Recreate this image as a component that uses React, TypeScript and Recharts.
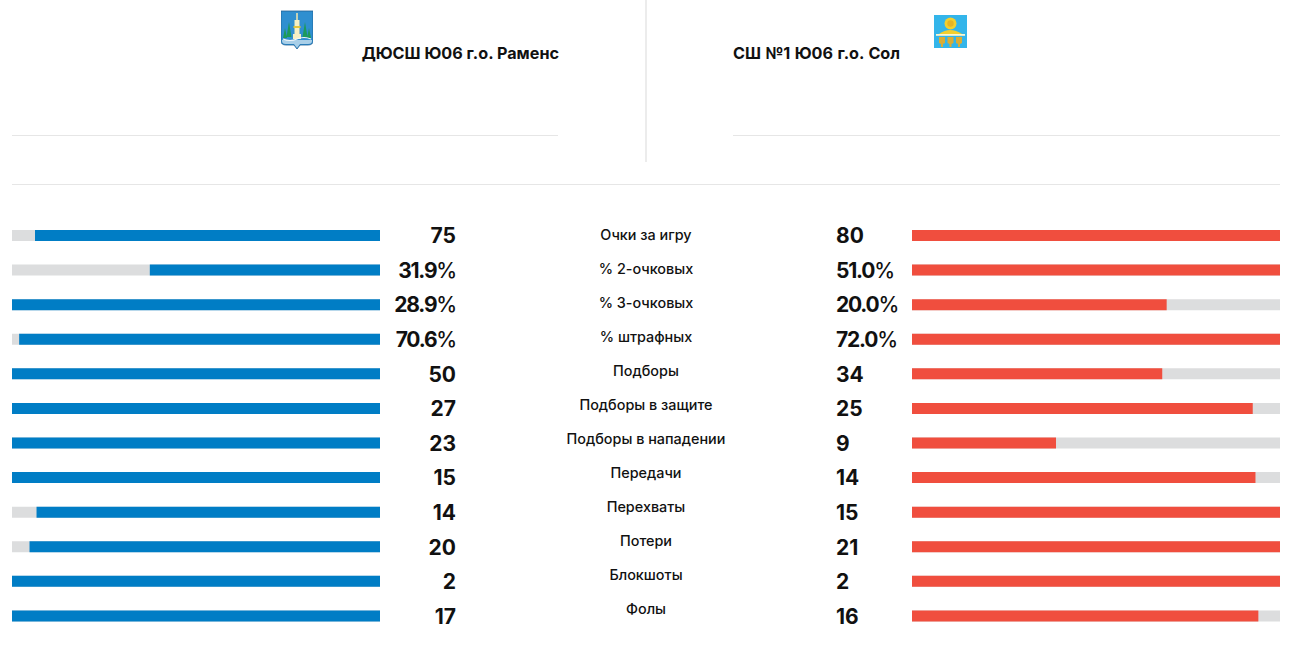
import { BarChart, Bar, XAxis, YAxis } from "recharts";

const labels = [
  "Очки за игру",
  "% 2-очковых",
  "% 3-очковых",
  "% штрафных",
  "Подборы",
  "Подборы в защите",
  "Подборы в нападении",
  "Передачи",
  "Перехваты",
  "Потери",
  "Блокшоты",
  "Фолы",
];
const homeValues = [75, 31.9, 28.9, 70.6, 50, 27, 23, 15, 14, 20, 2, 17];
const awayValues = [80, 51.0, 20.0, 72.0, 34, 25, 9, 14, 15, 21, 2, 16];
const units = ["", "%", "%", "%", "", "", "", "", "", "", "", ""];

// each row is scaled against the bigger of the two teams
const rows = labels.map((label, i) => {
  const max = Math.max(homeValues[i], awayValues[i]);
  return { label, home: homeValues[i] / max, away: awayValues[i] / max };
});

const FONT = "Inter, 'Noto Sans', sans-serif";
const GREY = "#dcddde";

function ValueText({ x, y, anchor, value, unit }: any) {
  return (
    <text
      x={x}
      y={y}
      dy={8}
      textAnchor={anchor}
      fontFamily={FONT}
      fontSize={21}
      fontWeight={700}
      fill="#111"
      letterSpacing={unit ? -1.2 : 0}
    >
      {unit ? value.toFixed(1) : value}
      {unit ? <tspan fontWeight={500}>{unit}</tspan> : null}
    </text>
  );
}

function HomeTick({ y, index }: any) {
  return <ValueText x={444} y={y} anchor="end" value={homeValues[index]} unit={units[index]} />;
}

function AwayTick({ y, index }: any) {
  return <ValueText x={0} y={y} anchor="start" value={awayValues[index]} unit={units[index]} />;
}

function LabelTick({ y, index }: any) {
  return (
    <text x={200} y={y} dy={5} textAnchor="middle" fontFamily={FONT} fontSize={14.4} fontWeight={500} fill="#111">
      {labels[index]}
    </text>
  );
}

function HomeCrest() {
  return (
    <svg width={32} height={40} viewBox="0 0 32 40" style={{ position: "absolute", left: 281, top: 10 }}>
      <path d="M0 1h32v30q0 4-5 4H19l-3 4-3-4H5q-5 0-5-4z" fill="#2f8fd0" stroke="#1f5f96" strokeWidth={0.8} />
      <path d="M1 30h30v1q0 3-4 3H19l-3 4-3-4H5q-4 0-4-3z" fill="#a9cfe8" />
      <rect x={15.2} y={3} width={1.6} height={8} fill="#e8e2b0" />
      <rect x={13.5} y={10} width={5} height={18} fill="#f6f0c4" />
      <rect x={12.5} y={16} width={7} height={2} fill="#e3c53c" />
      <rect x={12} y={24} width={8} height={5} fill="#f6f0c4" />
      <path d="M8 12l2.500 15h-5zM24 12l2.500 15h-5zM4 18l2 10H2zM28 18l2 10h-4z" fill="#1c9a5c" />
      <path d="M2 29q7 3 14 0t14 0" fill="none" stroke="#f2f7fa" strokeWidth={1.2} />
    </svg>
  );
}

function AwayCrest() {
  return (
    <svg width={33} height={33} viewBox="0 0 33 33" style={{ position: "absolute", left: 934, top: 15 }}>
      <rect width={33} height={33} fill="#33b5ea" />
      <circle cx={16.5} cy={8.500} r={6} fill="#f2cf2e" />
      <circle cx={16.5} cy={8.500} r={3.200} fill="#e6b422" />
      <path d="M5 19q11-8 23 0z" fill="#f2cf2e" />
      <rect x={2} y={19} width={29} height={1.800} fill="#fbf6d0" />
      <path d="M5 22h6v6l-2 1v3H7v-3l-2-1zM13.500 22h6v6l-2 1v3h-2v-3l-2-1zM22 22h6v6l-2 1v3h-2v-3l-2-1z" fill="#d9ad35" />
    </svg>
  );
}

const headStyle: React.CSSProperties = {
  position: "absolute",
  top: 43,
  height: 20,
  lineHeight: "20px",
  fontFamily: FONT,
  fontSize: 16.2,
  fontWeight: 700,
  color: "#111",
  whiteSpace: "nowrap",
};

export default function App() {
  return (
    <div style={{ position: "absolute", left: 0, top: 0, width: 1293, height: 651, background: "#fff", overflow: "hidden" }}>
      <HomeCrest />
      <AwayCrest />
      <div style={{ ...headStyle, right: 734 }}>ДЮСШ Ю06 г.о. Раменс</div>
      <div style={{ ...headStyle, left: 733, wordSpacing: 0.6 }}>СШ №1 Ю06 г.о. Сол</div>

      <div style={{ position: "absolute", left: 12, top: 135, width: 546, height: 1, background: "#e6e6e6" }} />
      <div style={{ position: "absolute", left: 733, top: 135, width: 547, height: 1, background: "#e6e6e6" }} />
      <div style={{ position: "absolute", left: 645, top: 0, width: 2, height: 162, background: "#ececec" }} />
      <div style={{ position: "absolute", left: 12, top: 184, width: 1268, height: 1, background: "#e6e6e6" }} />

      <div style={{ position: "absolute", left: 12, top: 217 }}>
        <BarChart width={444} height={416} data={rows} layout="vertical" margin={{ top: 1, right: 0, bottom: 0, left: 0 }}>
          <XAxis type="number" hide domain={[0, 1]} reversed />
          <YAxis type="category" dataKey="label" orientation="right" width={76} axisLine={false} tickLine={false} interval={0} tick={<HomeTick />} />
          <Bar dataKey="home" fill="#007dc5" barSize={11} background={{ fill: GREY }} isAnimationActive={false} />
        </BarChart>
      </div>

      <div style={{ position: "absolute", left: 836, top: 217 }}>
        <BarChart width={444} height={416} data={rows} layout="vertical" margin={{ top: 1, right: 0, bottom: 0, left: 0 }}>
          <XAxis type="number" hide domain={[0, 1]} />
          <YAxis type="category" dataKey="label" width={76} axisLine={false} tickLine={false} interval={0} tick={<AwayTick />} />
          <Bar dataKey="away" fill="#f04e3e" barSize={11} background={{ fill: GREY }} isAnimationActive={false} />
        </BarChart>
      </div>

      <div style={{ position: "absolute", left: 446, top: 218 }}>
        <BarChart width={401} height={408} data={rows} layout="vertical" margin={{ top: 0, right: 0, bottom: 0, left: 0 }}>
          <XAxis type="number" hide domain={[0, 1]} />
          <YAxis type="category" dataKey="label" width={400} axisLine={false} tickLine={false} interval={0} tick={<LabelTick />} />
        </BarChart>
      </div>
    </div>
  );
}
